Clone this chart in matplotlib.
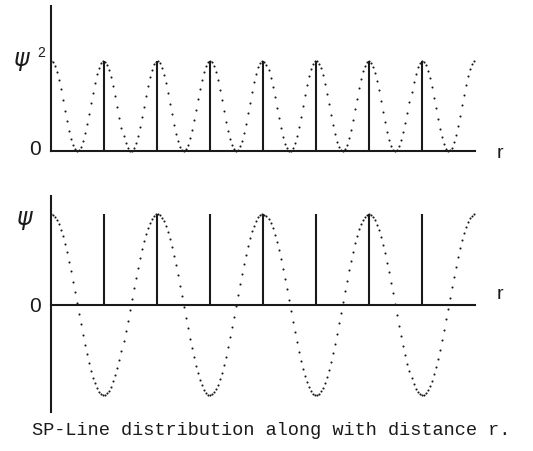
import numpy as np
import matplotlib
matplotlib.use("Agg")
import matplotlib.pyplot as plt

# Wave parameters (distance r in units of the line spacing)
r_max = 8.0                 # extent of the r axis
amplitude = 1.0             # peak value of psi
line_positions = [1, 2, 3, 4, 5, 6, 7]   # positions of the SP lines
sample_step = 0.038         # spacing of the dotted samples along r

caption = "SP-Line distribution along with distance r."

W, H = 533, 452
DPI = 100
fig = plt.figure(figsize=(W / DPI, H / DPI), dpi=DPI)
fig.patch.set_facecolor("white")

ink = "#1a1a1a"


def axes_px(left, top, right, bottom):
    """Create axes from pixel box (origin at upper-left)."""
    return fig.add_axes([left / W, 1 - bottom / H, (right - left) / W, (bottom - top) / H])


r = np.arange(0.0, r_max + 1e-9, sample_step)
psi = amplitude * np.cos(np.pi * r)
psi_sq = psi ** 2

# ---- upper panel: psi squared ----
ax1 = axes_px(51, 7, 475, 152)
ax1.set_xlim(0, r_max)
ax1.set_ylim(0, 145 / 90)
ax1.plot(r, psi_sq, linestyle="none", marker="o", markersize=1.5,
         color=ink, markeredgewidth=0, clip_on=False)
ax1.vlines(line_positions, 0, amplitude ** 2, color=ink, linewidth=1.5)

# ---- lower panel: psi ----
ax2 = axes_px(51, 197, 475, 413)
ax2.set_xlim(0, r_max)
ax2.set_ylim(-(413 - 305.7) / 90.5, (305.7 - 197) / 90.5)
ax2.plot(r, psi, linestyle="none", marker="o", markersize=1.5,
         color=ink, markeredgewidth=0, clip_on=False)
ax2.vlines(line_positions, 0, amplitude, color=ink, linewidth=1.5)

for ax in (ax1, ax2):
    ax.set_facecolor("none")
    for side in ("top", "right"):
        ax.spines[side].set_visible(False)
    ax.spines["left"].set_linewidth(1.5)
    ax.spines["bottom"].set_linewidth(1.5)
    ax.spines["left"].set_color(ink)
    ax.spines["bottom"].set_color(ink)
    ax.set_xticks([])
    ax.set_yticks([])
ax2.spines["bottom"].set_position(("data", 0))


def label(x, y, s, size, **kw):
    fig.text(x / W, 1 - y / H, s, fontsize=size, color=ink,
             ha=kw.pop("ha", "center"), va=kw.pop("va", "center"), **kw)


# axis labels
label(22, 61, r"$\psi$", 17)
label(41, 53, "2", 10, family="Liberation Sans")
label(35, 150, "0", 15, family="Liberation Sans")
label(500, 153, "r", 14, family="Liberation Sans")

label(25, 220, r"$\psi$", 17)
label(35, 307, "0", 15, family="Liberation Sans")
label(500, 295, "r", 14, family="Liberation Sans")

# caption
label(32, 431, caption, 13.4, ha="left", family="Liberation Mono")

fig.savefig("out.png", dpi=DPI, facecolor="white")
